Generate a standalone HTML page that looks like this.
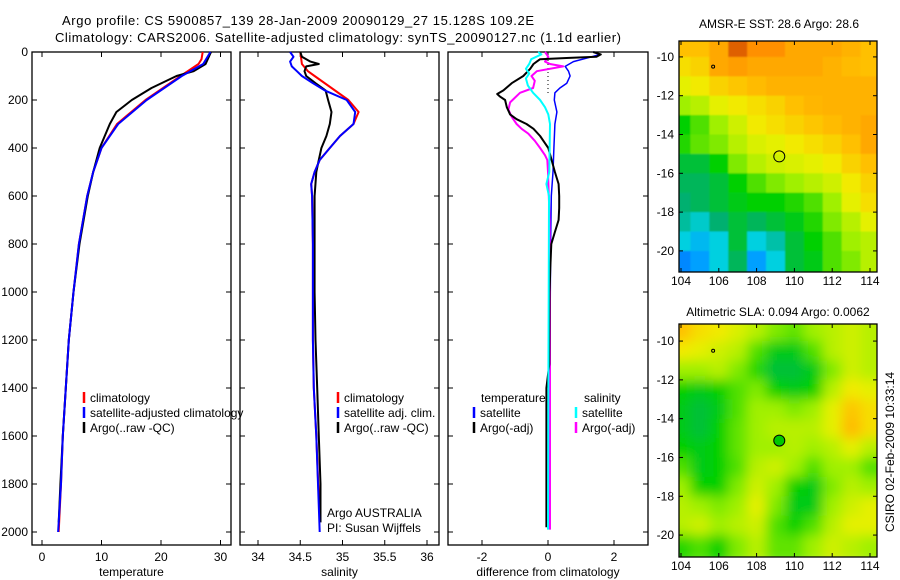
<!DOCTYPE html>
<html><head><meta charset="utf-8"><style>
html,body{margin:0;padding:0;background:#fff;}
svg{display:block;font-family:"Liberation Sans",sans-serif;}
</style></head><body>
<svg id="fig" width="900" height="580" viewBox="0 0 900 580">
<text x="62" y="25" font-size="13" textLength="472">Argo profile: CS 5900857_139 28-Jan-2009 20090129_27 15.128S 109.2E</text>
<text x="55" y="42" font-size="13" textLength="566">Climatology: CARS2006. Satellite-adjusted climatology: synTS_20090127.nc (1.1d earlier)</text>
<g id="g1"></g>
<g id="g2"></g>
<g id="g3"></g>
<g id="m1"></g>
<g id="m2"></g>
<text x="779" y="28" font-size="12" text-anchor="middle">AMSR-E SST: 28.6 Argo: 28.6</text>
<text x="778" y="316" font-size="12" text-anchor="middle">Altimetric SLA: 0.094 Argo: 0.0062</text>
<text transform="translate(894,452) rotate(-90)" font-size="12" text-anchor="middle">CSIRO 02-Feb-2009 10:33:14</text>
</svg>
<script>
// ---- data ----
const tempClimDepth=[0,30,50,100,200,300,400,500,600,800,1000,1200,1400,1600,1800,2000];
const tempClim=[27.0,26.8,26.3,23.3,17.4,12.6,10.0,8.6,7.6,6.2,5.3,4.5,4.0,3.5,3.2,2.8];
const tempSatDepth=[0,50,100,200,300,400,500,600,800,1000,1200,1400,1600,1800,2000];
const tempSat=[28.3,27.1,23.5,17.6,12.8,10.0,8.6,7.6,6.2,5.3,4.5,4.0,3.5,3.2,2.7];
const tempArgoDepth=[0,50,80,100,150,200,250,300,400,500,600,800,1000,1200,1400,1600,1800,1960];
const tempArgo=[28.4,27.5,25.5,22.6,18.4,15.1,12.5,11.4,9.7,8.6,7.7,6.3,5.3,4.5,4.0,3.5,3.1,2.8];

const salClimDepth=[0,50,80,100,150,200,250,300,350,400,450,500,550,600,800,1000,1200,1400,1600,1860];
const salClim=[34.50,34.52,34.59,34.67,34.87,35.07,35.19,35.13,34.97,34.85,34.73,34.67,34.63,34.64,34.65,34.65,34.65,34.66,34.69,34.72];
const salSatDepth=[0,20,40,60,80,100,130,160,200,250,300,350,400,450,500,550,600,800,1000,1200,1400,1600,1800,2000];
const salSat=[34.38,34.42,34.38,34.40,34.46,34.52,34.65,34.79,35.05,35.15,35.13,34.97,34.85,34.73,34.67,34.63,34.64,34.65,34.65,34.65,34.66,34.69,34.71,34.73];
const salArgoDepth=[0,20,40,50,60,80,100,130,160,200,250,300,350,400,450,500,600,800,1000,1200,1400,1600,1800,1960];
const salArgo=[34.50,34.52,34.62,34.72,34.57,34.55,34.57,34.68,34.80,34.83,34.87,34.85,34.81,34.75,34.72,34.69,34.67,34.67,34.67,34.68,34.70,34.72,34.74,34.74];

const dTsatDepth=[0,10,20,40,60,80,100,130,150,170,200,250,300,400,500,600,800,1000,1400,1980];
const dTsat=[1.37,1.58,1.32,0.77,0.52,0.62,0.67,0.57,0.36,0.21,0.19,0.27,0.21,0.18,0.15,0.10,0.08,0.07,0.05,0.04];
const dTargoDepth=[0,10,20,25,30,40,50,70,100,130,160,175,185,200,230,260,280,300,320,350,380,400,450,500,550,600,650,700,750,800,900,1000,1300,1400,1980];
const dTargo=[1.37,1.60,1.47,0.56,-0.24,-0.34,-0.44,-0.54,-0.75,-1.10,-1.35,-1.54,-1.46,-1.30,-1.25,-1.15,-0.95,-0.65,-0.44,-0.24,-0.09,0.01,0.11,0.21,0.32,0.34,0.34,0.32,0.21,0.10,0.07,0.05,0.04,-0.05,-0.05];
const dSsatDepth=[0,10,30,50,70,90,110,140,170,200,230,260,300,500,550,600,1000,1500,1990];
const dSsat=[-0.30,-0.20,-0.51,-0.57,-0.67,-0.57,-0.67,-0.61,-0.45,-0.24,-0.09,0.01,0.06,0.04,-0.05,0.03,0.02,0.01,0.0];
const dSargoDepth=[0,20,40,50,60,80,100,120,150,170,190,210,240,270,300,320,340,370,400,430,450,500,700,1000,1500,1990];
const dSargo=[-0.09,0.01,-0.09,0.06,0.46,-0.34,-0.50,-0.40,-0.45,-0.85,-1.00,-1.15,-1.20,-1.10,-0.95,-0.80,-0.60,-0.40,-0.24,-0.09,-0.02,0.00,0.05,0.06,0.06,0.06];

const depthTicks=[0,200,400,600,800,1000,1200,1400,1600,1800,2000];
const tempTicks=[0,10,20,30];
const salTicks=[34,34.5,35,35.5,36];
const diffTicks=[-2,0,2];
const lonTicks=[104,106,108,110,112,114];
const latTicks=[-10,-12,-14,-16,-18,-20];

const mapLons=[104,105,106,107,108,109,110,111,112,113,114];
const mapLats=[-9.5,-10.5,-11.5,-12.5,-13.5,-14.5,-15.5,-16.5,-17.5,-18.5,-19.5,-20.5];
const sstGrid=[
[.75,.75,.8,.9,.85,.85,.8,.8,.8,.78,.75],
[.7,.72,.8,.82,.8,.8,.8,.8,.78,.76,.75],
[.66,.68,.72,.74,.76,.78,.78,.78,.78,.78,.78],
[.6,.62,.66,.68,.7,.72,.75,.77,.78,.78,.78],
[.5,.55,.6,.64,.68,.7,.72,.74,.76,.78,.8],
[.52,.56,.58,.62,.65,.66,.68,.7,.72,.75,.8],
[.45,.45,.5,.58,.62,.64,.65,.66,.68,.72,.75],
[.42,.42,.45,.5,.55,.58,.6,.62,.64,.68,.72],
[.4,.42,.45,.48,.5,.5,.52,.55,.6,.66,.7],
[.36,.32,.4,.45,.42,.45,.48,.52,.58,.62,.66],
[.3,.25,.3,.45,.3,.35,.45,.5,.55,.6,.62],
[.15,.2,.3,.42,.2,.3,.45,.48,.55,.58,.62]];
const slaGrid=[
[.75,.7,.68,.65,.62,.58,.56,.6,.62,.64,.62],
[.68,.66,.64,.62,.55,.48,.48,.55,.62,.64,.62],
[.6,.6,.62,.58,.52,.45,.45,.48,.58,.64,.62],
[.5,.48,.5,.55,.58,.5,.48,.5,.62,.68,.66],
[.48,.45,.48,.55,.6,.6,.58,.6,.66,.74,.7],
[.48,.45,.5,.56,.6,.62,.62,.62,.66,.76,.7],
[.5,.48,.5,.56,.6,.6,.62,.6,.62,.66,.62],
[.55,.48,.5,.55,.62,.64,.6,.55,.6,.6,.55],
[.6,.5,.5,.58,.64,.6,.5,.48,.58,.62,.6],
[.62,.6,.58,.6,.66,.58,.48,.48,.6,.64,.66],
[.62,.64,.6,.62,.64,.55,.5,.55,.62,.66,.66],
[.52,.55,.5,.58,.62,.56,.56,.6,.64,.62,.6]];
const argoPos=[109.2,-15.13];

// ---- helpers ----
const NS='http://www.w3.org/2000/svg';
function mk(parent,tag,attrs){const e=document.createElementNS(NS,tag);for(const k in attrs)e.setAttribute(k,attrs[k]);parent.appendChild(e);return e;}
const TOP=52,BOT=545;
const yD=d=>TOP+0.24*d;

function panel(g,left,right,xf,ticks,label,name){
  const r=mk(g,'rect',{x:left,y:TOP,width:right-left,height:BOT-TOP,fill:'none',stroke:'#000','stroke-width':1.3});
  
  
  depthTicks.forEach(d=>{
    const y=yD(d);
    mk(g,'line',{x1:left,x2:left+5,y1:y,y2:y,stroke:'#000'});
    mk(g,'line',{x1:right-5,x2:right,y1:y,y2:y,stroke:'#000'});
  });
  ticks.forEach(t=>{
    const x=xf(t);
    mk(g,'line',{x1:x,x2:x,y1:TOP,y2:TOP+5,stroke:'#000'});
    mk(g,'line',{x1:x,x2:x,y1:BOT-5,y2:BOT,stroke:'#000'});
    const tx=mk(g,'text',{x:x,y:561,'font-size':12,'text-anchor':'middle'});
    tx.textContent=String(t);
    
    
  });
  const lab=mk(g,'text',{x:(left+right)/2,y:576,'font-size':12,'text-anchor':'middle'});
  lab.textContent=label;
  
  
}
function line(g,xs,ds,xf,color,w,name,dash){
  const pts=xs.map((v,i)=>xf(v).toFixed(1)+','+yD(ds[i]).toFixed(1)).join(' ');
  const p=mk(g,'polyline',{points:pts,fill:'none',stroke:color,'stroke-width':w,'stroke-linejoin':'round'});
  if(dash)p.setAttribute('stroke-dasharray',dash);
  
  
}
function legend(g,x,y,color,txt,name){
  mk(g,'line',{x1:x,x2:x,y1:y-10,y2:y+1,stroke:color,'stroke-width':2.5});
  const t=mk(g,'text',{x:x+6,y:y,'font-size':12});
  t.textContent=txt;
  
  
}

// panel 1 temperature
const g1=document.getElementById('g1');
const xT=t=>42+t*5.95;
panel(g1,32,231,xT,tempTicks,'temperature','temperature');
depthTicks.forEach(d=>{
  const t=mk(g1,'text',{x:28,y:yD(d)+4,'font-size':12,'text-anchor':'end'});
  t.textContent=String(d);
  
  
});
line(g1,tempClim,tempClimDepth,xT,'#f00',2,'temp-climatology-line');
line(g1,tempArgo,tempArgoDepth,xT,'#000',2,'temp-argo-line');
line(g1,tempSat,tempSatDepth,xT,'#00f',2,'temp-satellite-line');
legend(g1,84,402,'#f00','climatology','legend-climatology');
legend(g1,84,417,'#00f','satellite-adjusted climatology','legend-satellite-adjusted');
legend(g1,84,432,'#000','Argo(..raw -QC)','legend-argo');

// panel 2 salinity
const g2=document.getElementById('g2');
const xS=s=>258+(s-34)*84.5;
panel(g2,240,439,xS,salTicks,'salinity','salinity');
line(g2,salClim,salClimDepth,xS,'#f00',2,'sal-climatology-line');
line(g2,salArgo,salArgoDepth,xS,'#000',2,'sal-argo-line');
line(g2,salSat,salSatDepth,xS,'#00f',2,'sal-satellite-line');
legend(g2,338,402,'#f00','climatology','legend-sal-climatology');
legend(g2,338,417,'#00f','satellite adj. clim.','legend-sal-satellite');
legend(g2,338,432,'#000','Argo(..raw -QC)','legend-sal-argo');
[['Argo AUSTRALIA',517],['PI: Susan Wijffels',532]].forEach(a=>{
  const t=mk(g2,'text',{x:327,y:a[1],'font-size':12});t.textContent=a[0];
  
  
});
// re-clip g2 frame overlay via white bg for text not needed

// panel 3 difference
const g3=document.getElementById('g3');
const xDf=v=>548+v*33;
panel(g3,448,648,xDf,diffTicks,'difference from climatology','difference');
mk(g3,'line',{x1:548,x2:548,y1:TOP,y2:yD(180),stroke:'#000','stroke-dasharray':'1,3'});
line(g3,dTsat,dTsatDepth,xDf,'#00f',1.5,'diff-temp-satellite-line');
line(g3,dSargo,dSargoDepth,xDf,'#f0f',2,'diff-sal-argo-line');
line(g3,dTargo,dTargoDepth,xDf,'#000',2,'diff-temp-argo-line');
line(g3,dSsat,dSsatDepth,xDf,'#0ff',2,'diff-sal-satellite-line');
const tl=mk(g3,'text',{x:481,y:402,'font-size':12});tl.textContent='temperature';


const sl=mk(g3,'text',{x:584,y:402,'font-size':12});sl.textContent='salinity';


legend(g3,474,417,'#00f','satellite','legend-diff-temp-satellite');
legend(g3,474,432,'#000','Argo(-adj)','legend-diff-temp-argo');
legend(g3,576,417,'#0ff','satellite','legend-diff-sal-satellite');
legend(g3,576,432,'#f0f','Argo(-adj)','legend-diff-sal-argo');

// maps
const stops=[[0,[0,64,255]],[0.2,[0,160,255]],[0.3,[0,208,224]],[0.4,[0,176,112]],[0.5,[0,208,0]],[0.6,[160,240,0]],[0.67,[240,240,0]],[0.75,[255,192,0]],[0.85,[255,144,0]],[1,[160,0,0]]];
function cmap(v){
  for(let i=1;i<stops.length;i++){if(v<=stops[i][0]){const a=stops[i-1],b=stops[i];const f=(v-a[0])/(b[0]-a[0]);
    return 'rgb('+a[1].map((c,k)=>Math.round(c+(b[1][k]-c)*f)).join(',')+')';}}
  return 'rgb(160,0,0)';
}
function drawMap(id,top,bottom,latTop,latPx,grid,blur,filled){
  const g=document.getElementById(id);
  const L=679,R=877;
  const xL=lon=>681+(lon-104)*18.9;
  const yL=lat=>top+(latTop-lat)*latPx;
  const cid='clip'+id;
  const defs=mk(g,'defs',{});
  const cp=mk(defs,'clipPath',{id:cid});
  mk(cp,'rect',{x:L,y:top,width:R-L,height:bottom-top});
  if(blur){const f=mk(defs,'filter',{id:'f'+id,x:'-10%',y:'-10%',width:'120%',height:'120%'});mk(f,'feGaussianBlur',{stdDeviation:blur});}
  const cg=mk(g,'g',{'clip-path':'url(#'+cid+')'});
  const inner=mk(cg,'g',blur?{filter:'url(#f'+id+')'}:{});
  mapLats.forEach((lat,i)=>mapLons.forEach((lon,j)=>{
    const x0=xL(lon-0.5)-(j==0?10:0),x1=xL(lon+0.5)+(j==mapLons.length-1?10:0);
    const y0=yL(lat+0.5)-(i==0?10:0),y1=yL(lat-0.5)+(i==mapLats.length-1?10:0);
    const c=mk(inner,'rect',{x:x0,y:y0,width:x1-x0+0.5,height:y1-y0+0.5,fill:cmap(grid[i][j])});
    
    
  }));
  const fr=mk(g,'rect',{x:L,y:top,width:R-L,height:bottom-top,fill:'none',stroke:'#000','stroke-width':1.3});
  
  
  lonTicks.forEach(lon=>{const x=xL(lon);
    mk(g,'line',{x1:x,x2:x,y1:top,y2:top+4,stroke:'#000'});
    mk(g,'line',{x1:x,x2:x,y1:bottom-4,y2:bottom,stroke:'#000'});
    const t=mk(g,'text',{x:x,y:bottom+13,'font-size':12,'text-anchor':'middle'});t.textContent=String(lon);
    
    
  });
  latTicks.forEach(lat=>{const y=yL(lat);
    mk(g,'line',{x1:L,x2:L+4,y1:y,y2:y,stroke:'#000'});
    mk(g,'line',{x1:R-4,x2:R,y1:y,y2:y,stroke:'#000'});
    const t=mk(g,'text',{x:674,y:y+4,'font-size':12,'text-anchor':'end'});t.textContent=String(lat);
    
    
  });
  mk(g,'circle',{cx:xL(105.7),cy:yL(-10.5),r:1.5,fill:'none',stroke:'#000'});
  const c=mk(g,'circle',{cx:xL(argoPos[0]),cy:yL(argoPos[1]),r:5.5,fill:filled?'#00c800':'none',stroke:'#000','stroke-width':1});
  
  
}
drawMap('m1',41,272,-9.18,19.4,sstGrid,0.8,false);
drawMap('m2',324,557,-9.12,19.4,slaGrid,6,true);
</script>
</body></html>
